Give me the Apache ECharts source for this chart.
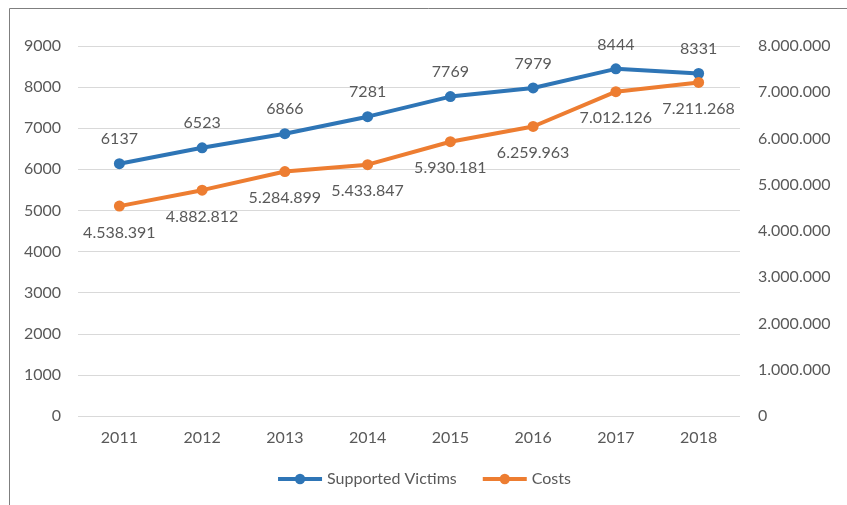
<!DOCTYPE html>
<html><head><meta charset="utf-8">
<script src="https://cdn.jsdelivr.net/npm/echarts@6/dist/echarts.min.js"></script>
<style>html,body{margin:0;padding:0;background:#fff}#c{width:847px;height:505px}</style>
</head><body><div id="c"></div>
<script>
const years = ['2011','2012','2013','2014','2015','2016','2017','2018'];
const victims = [6137, 6523, 6866, 7281, 7769, 7979, 8444, 8331];
const costs = [4538391, 4882812, 5284899, 5433847, 5930181, 6259963, 7012126, 7211268];
const seriesNames = ['Supported Victims', 'Costs'];

function dots(v){ return String(Math.round(v)).replace(/\B(?=(\d{3})+(?!\d))/g, '.'); }
const FONT = 'Lato';
const GREY = '#595959';
const FS = 16;
const chart = echarts.init(document.getElementById('c'));
chart.setOption({
  animation: false,
  textStyle: {fontFamily: FONT},
  graphic: [{type:'rect', shape:{x:9.5, y:8.5, width:900, height:600}, style:{fill:'none', stroke:'#7f7f7f', lineWidth:1}}],
  grid: {left: 78, right: 107, top: 46, bottom: 89},
  legend: {bottom: 13, left: 'center', itemWidth: 44, itemHeight: 13, itemGap: 24,
    lineStyle: {width: 4}, itemStyle: {},
    textStyle: {color: GREY, fontSize: FS, fontFamily: FONT}, data: seriesNames},
  xAxis: {type: 'category', data: years, boundaryGap: true,
    axisLine: {show: false}, axisTick: {show: false},
    axisLabel: {color: GREY, fontSize: FS, margin: 14}},
  yAxis: [
    {type: 'value', min: 0, max: 9000, interval: 1000,
     axisLine: {show: false}, axisTick: {show: false},
     splitLine: {lineStyle: {color: '#d9d9d9', width: 1}},
     axisLabel: {color: GREY, fontSize: FS, margin: 17, formatter: v => String(v)}},
    {type: 'value', min: 0, max: 8000000, interval: 1000000,
     axisLine: {show: false}, axisTick: {show: false}, splitLine: {show: false},
     axisLabel: {color: GREY, fontSize: FS, margin: 18, formatter: v => dots(v)}}
  ],
  series: [
    {name: seriesNames[0], type: 'line', data: victims, yAxisIndex: 0,
     symbol: 'circle', symbolSize: 11, itemStyle: {color: '#2E75B6'},
     lineStyle: {width: 4, color: '#2E75B6'},
     label: {show: true, position: 'top', distance: 11, color: GREY, fontSize: FS}},
    {name: seriesNames[1], type: 'line', data: costs, yAxisIndex: 1,
     symbol: 'circle', symbolSize: 11, itemStyle: {color: '#ED7D31'},
     lineStyle: {width: 4, color: '#ED7D31'},
     label: {show: true, position: 'bottom', distance: 13, color: GREY, fontSize: FS,
       formatter: p => dots(p.value)}}
  ]
});
</script></body></html>
